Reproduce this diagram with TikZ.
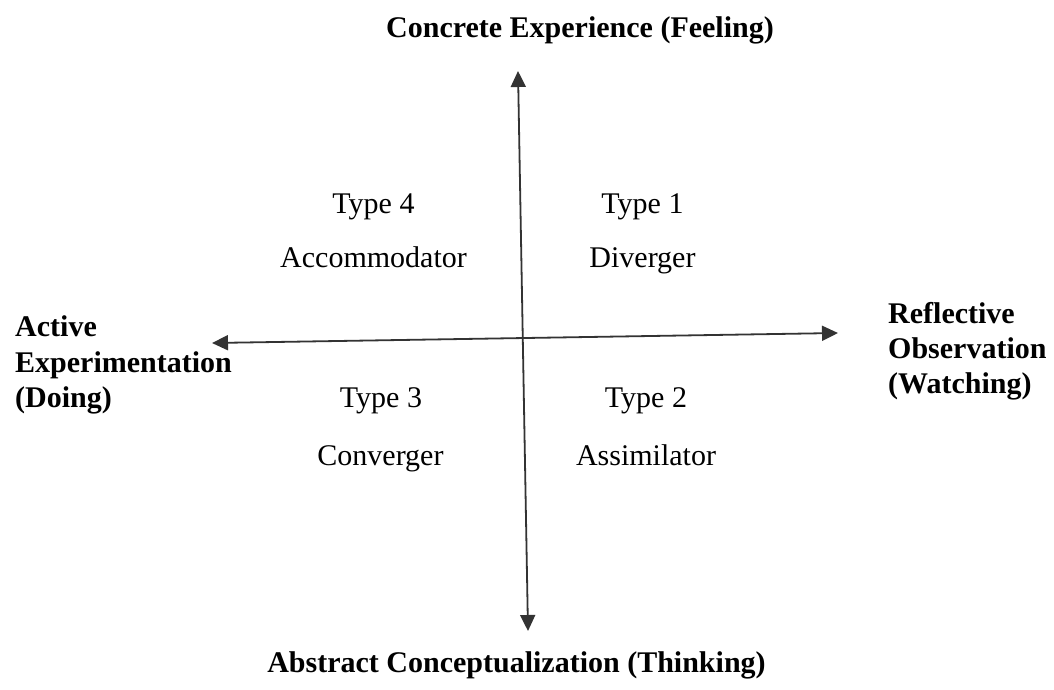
\documentclass[tikz,border=0pt]{standalone}
\usepackage{fontspec}
\setmainfont{Liberation Serif}
\usetikzlibrary{arrows.meta}

\begin{document}
\begin{tikzpicture}[x=1pt, y=-1pt, >={Triangle[length=16pt, width=15pt]},
  every node/.style={font=\fontsize{30}{36}\selectfont, inner sep=0pt, anchor=base},
  axislabel/.style={font=\fontsize{30}{36}\selectfont\bfseries},
  sidelabel/.style={axislabel, anchor=base west}]
  \useasboundingbox (0,0) rectangle (1054,689);
  % axis ends
  \coordinate (feel) at (518,71);
  \coordinate (think) at (528,631);
  \coordinate (do) at (212,343);
  \coordinate (watch) at (838,333);
  \draw[<->, line width=1.8pt, black!80] (feel) -- (think);
  \draw[<->, line width=1.8pt, black!80] (do) -- (watch);
  % axis labels
  \node[axislabel] (concrete) at (580,37) {Concrete Experience (Feeling)};
  \node[axislabel] (abstract) at (516.5,672) {Abstract Conceptualization (Thinking)};
  \node[sidelabel] (active1) at (15,336) {Active};
  \node[sidelabel] (active2) at (15,372) {Experimentation};
  \node[sidelabel] (active3) at (15,407) {(Doing)};
  \node[sidelabel] (reflect1) at (888,323) {Reflective};
  \node[sidelabel] (reflect2) at (888,358) {Observation};
  \node[sidelabel] (reflect3) at (888,393) {(Watching)};
  % quadrants
  \node (type4) at (373.5,213) {Type 4};
  \node (accommodator) at (373.5,267) {Accommodator};
  \node (type1) at (642.5,213) {Type 1};
  \node (diverger) at (642.5,267) {Diverger};
  \node (type3) at (381,407) {Type 3};
  \node (converger) at (380.5,465) {Converger};
  \node (type2) at (646,407) {Type 2};
  \node (assimilator) at (646,465) {Assimilator};
\end{tikzpicture}
\end{document}
